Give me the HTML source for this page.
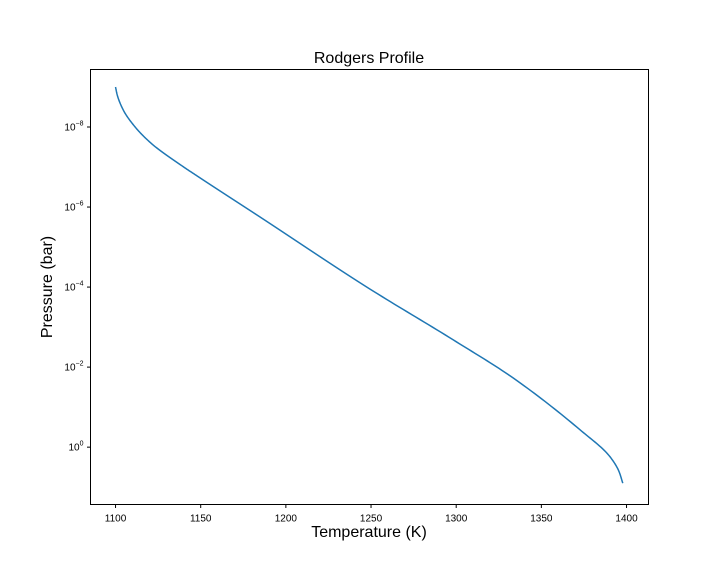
<!DOCTYPE html>
<html><head><meta charset="utf-8"><style>
html,body{margin:0;padding:0;background:#fff;}
svg{display:block;font-family:"Liberation Sans","DejaVu Sans",sans-serif;}
</style></head><body>
<svg id="chart" width="720" height="576" viewBox="0 0 720 576">
<rect width="720" height="576" fill="#fff"/>
<text x="369" y="63" font-size="16" text-anchor="middle">Rodgers Profile</text>
<text x="369" y="537" font-size="16" text-anchor="middle">Temperature (K)</text>
<text transform="translate(52,287) rotate(-90)" font-size="16" text-anchor="middle">Pressure (bar)</text>
<g id="xticks"></g>
<g id="yticks"></g>
<path id="line" fill="none" stroke="#1f77b4" stroke-width="1.5"/>
<rect x="90.5" y="69.5" width="558" height="435" fill="none" stroke="#000" stroke-width="1"/>
</svg>
<script>
const logPressure = [-9, -8.8, -8.42, -8, -7.59, -7.03, -6.76, -5.76, -3.95, -2.68, -1.73, -0.43, 0.24, 0.6, 0.9];
const temperature = [1100, 1101, 1104.6, 1111.5, 1121, 1139, 1148.5, 1184.5, 1249.4, 1298.3, 1333.4, 1372.8, 1390.3, 1395.5, 1397.8];
const xTickValues = [1100, 1150, 1200, 1250, 1300, 1350, 1400];
const yTickExponents = [-8, -6, -4, -2, 0];

const L=90.5,R=648.5,T=69.5,B=504.5;
const xMin=1085.3,xMax=1412.9,yMin=-9.437,yMax=1.433;
const sx=v=>L+(v-xMin)/(xMax-xMin)*(R-L);
const sy=v=>T+(v-yMin)/(yMax-yMin)*(B-T);
const NS="http://www.w3.org/2000/svg";
const xg=document.getElementById('xticks'), yg=document.getElementById('yticks');
xTickValues.forEach(v=>{
  const x=sx(v);
  const l=document.createElementNS(NS,'line');
  l.setAttribute('x1',x);l.setAttribute('x2',x);l.setAttribute('y1',B);l.setAttribute('y2',B+3.5);
  l.setAttribute('stroke','#000');
  
  
  xg.appendChild(l);
  const t=document.createElementNS(NS,'text');
  t.setAttribute('x',x);t.setAttribute('y',B+17);t.setAttribute('font-size','10');t.setAttribute('text-anchor','middle');
  t.textContent=v;
  
  
  xg.appendChild(t);
});
yTickExponents.forEach(e=>{
  const y=sy(e);
  const l=document.createElementNS(NS,'line');
  l.setAttribute('x1',L-3.5);l.setAttribute('x2',L);l.setAttribute('y1',y);l.setAttribute('y2',y);
  l.setAttribute('stroke','#000');
  
  
  yg.appendChild(l);
  const t=document.createElementNS(NS,'text');
  t.setAttribute('x',L-7);t.setAttribute('y',y+3.5);t.setAttribute('font-size','10');t.setAttribute('text-anchor','end');
  const exp=(e<0?'\u2212'+(-e):''+e);
  t.innerHTML='10<tspan dy="-5" font-size="7">'+exp+'</tspan>';
  
  
  yg.appendChild(t);
});
// monotone cubic (Fritsch-Carlson) T(logP) for a smooth line through the read points
const n=logPressure.length;
const h=[],del=[];
for(let i=0;i<n-1;i++){h[i]=logPressure[i+1]-logPressure[i];del[i]=(temperature[i+1]-temperature[i])/h[i];}
const m=new Array(n);
m[0]=del[0];m[n-1]=del[n-2];
for(let i=1;i<n-1;i++){
  if(del[i-1]*del[i]<=0)m[i]=0;
  else{const w1=2*h[i]+h[i-1],w2=h[i]+2*h[i-1];m[i]=(w1+w2)/(w1/del[i-1]+w2/del[i]);}
}
let d='';
for(let i=0;i<n-1;i++){
  const steps=20;
  for(let s=(i===0?0:1);s<=steps;s++){
    const t=s/steps,t2=t*t,t3=t2*t;
    const p=logPressure[i]+t*h[i];
    const v=(2*t3-3*t2+1)*temperature[i]+(t3-2*t2+t)*h[i]*m[i]+(-2*t3+3*t2)*temperature[i+1]+(t3-t2)*h[i]*m[i+1];
    d+=(d?' L':'M')+sx(v).toFixed(2)+','+sy(p).toFixed(2);
  }
}
document.getElementById('line').setAttribute('d',d);
</script>
</body></html>
